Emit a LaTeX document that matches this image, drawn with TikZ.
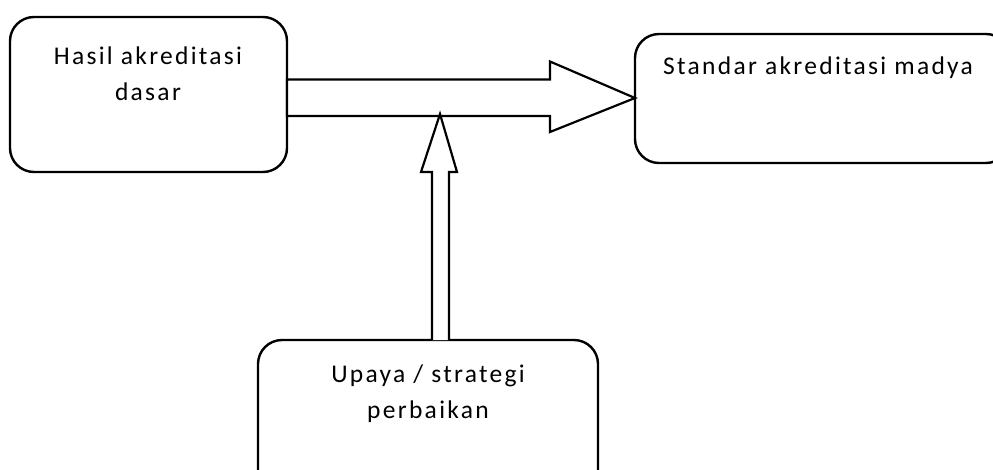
\documentclass[tikz,border=0pt]{standalone}
\usepackage{fontspec}
\setmainfont{Carlito}[LetterSpace=9]
\usetikzlibrary{calc}
\tikzset{
  box/.style={draw, line width=2.4pt, rounded corners=24pt, fill=white},
  blockarrow/.style={draw, line width=2.2pt, fill=white, line join=miter},
  label/.style={font=\fontsize{25.5}{36}\selectfont, align=center, inner sep=0pt}
}
\begin{document}
\begin{tikzpicture}[x=1pt,y=-1pt]
\useasboundingbox (0,0) rectangle (993,469);
\clip (0,0) rectangle (993,469);
\fill[white] (0,0) rectangle (993,469);
% boxes
\draw[box] (10,17) rectangle (287,172);
\coordinate (b1e) at (287,98);
\draw[box] (635,34) rectangle (1010,163);
\coordinate (b2w) at (635,98);
\draw[box] (258,340) rectangle (598,500);
\coordinate (b3n) at (440.5,340);
% texts
\node[label, anchor=base] (t1) at (148,100) {Hasil akreditasi\\dasar};
\node[label, anchor=base west] (t2) at (663,74) {Standar akreditasi madya};
\node[label, anchor=base] (t3) at (428,418) {Upaya / strategi\\perbaikan};
% horizontal block arrow
\draw[blockarrow] ($(b1e)+(0,-18.5)$) -- ($(b2w)+(-85,-18.5)$) -- ($(b2w)+(-85,-36.5)$)
  -- (b2w) -- ($(b2w)+(-85,34)$) -- ($(b2w)+(-85,18)$) -- ($(b1e)+(0,18)$) -- cycle;
% vertical block arrow
\draw[blockarrow] ($(b3n)+(-8.5,0)$) -- ($(b3n)+(-8.5,-168)$) -- ($(b3n)+(-19.5,-168)$)
  -- ($(b3n)+(-0.5,-226)$) -- ($(b3n)+(16.5,-168)$) -- ($(b3n)+(8.5,-168)$) -- ($(b3n)+(8.5,0)$);
\end{tikzpicture}
\end{document}
